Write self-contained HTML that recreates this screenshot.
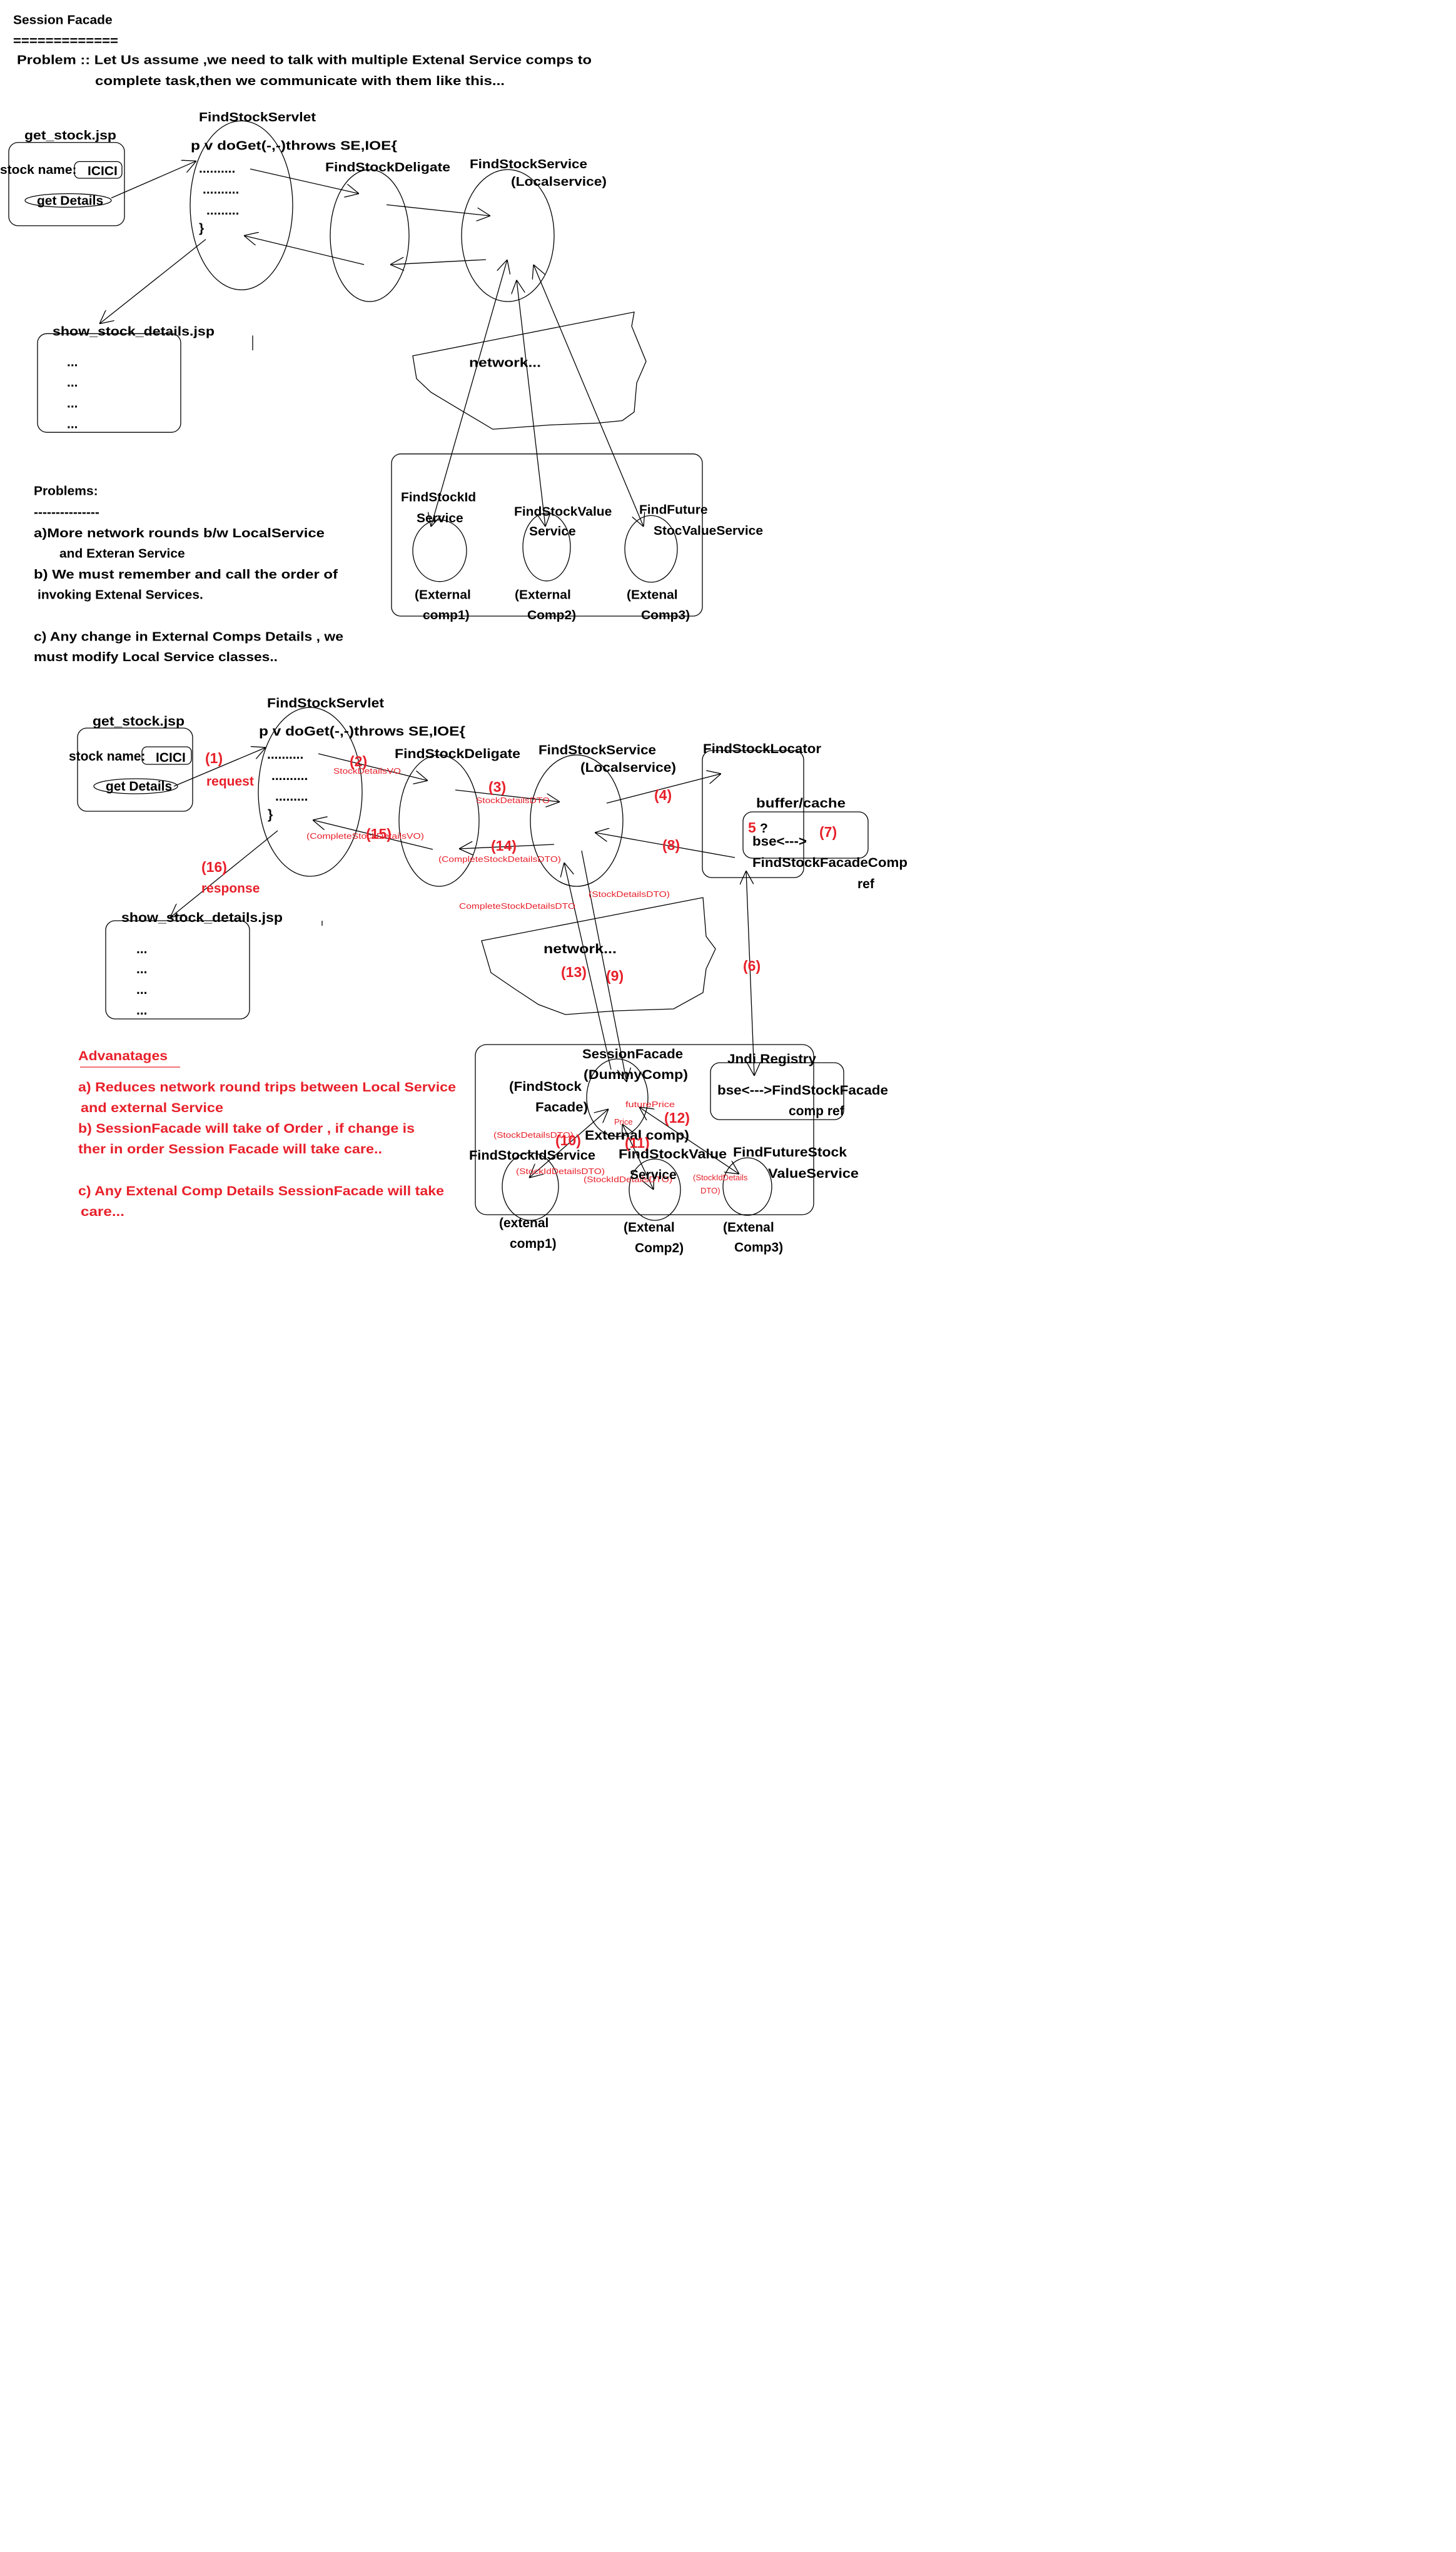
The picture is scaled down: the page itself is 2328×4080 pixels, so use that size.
<!DOCTYPE html>
<html><head><meta charset="utf-8"><style>
html,body{margin:0;padding:0;background:#fff}
svg{display:block}
text{font-family:"Liberation Sans",sans-serif;font-weight:bold;font-size:21px;fill:#000}
.r{fill:#e8202a}
.s{font-size:13px;fill:#e8202a;font-weight:normal}
.n{font-size:23px;fill:#e8202a}
</style></head><body>
<svg width="2328" height="4080" viewBox="0 0 2328 4080" xmlns="http://www.w3.org/2000/svg">
<defs>
<marker id="a" viewBox="0 0 10 10" refX="10" refY="5" markerWidth="22" markerHeight="22" markerUnits="userSpaceOnUse" orient="auto-start-reverse">
<path d="M0,0 L10,5 L0,10" fill="none" stroke="#000" stroke-width="0.6"/>
</marker>
</defs>
<g transform="matrix(1 0 0 0.986 0 0)">
<g fill="none" stroke="#000" stroke-width="1.3">
<rect x="14" y="231" width="185" height="135" rx="15"/>
<rect x="119" y="262" width="76" height="27" rx="8"/>
<ellipse cx="109" cy="325" rx="69" ry="11"/>
<ellipse cx="386" cy="333" rx="82" ry="137"/>
<ellipse cx="591" cy="382" rx="63" ry="107"/>
<ellipse cx="812" cy="382" rx="74" ry="107"/>
<rect x="60" y="541" width="229" height="160" rx="15"/>
<rect x="626" y="736" width="497" height="263" rx="15"/>
<ellipse cx="703" cy="893" rx="43" ry="50"/>
<ellipse cx="874" cy="887" rx="38" ry="55"/>
<ellipse cx="1041" cy="890" rx="42" ry="54"/>
<path d="M660,577 L1014,506 L1010,529 L1033,586 L1018,621 L1014,668 L995,682 L956,686 L880,689 L788,696 L735,664 L689,636 L666,614 Z"/>
<line x1="404" y1="544" x2="404" y2="568"/>
<g marker-end="url(#a)">
<line x1="178" y1="321" x2="314" y2="261"/>
<line x1="400" y1="274" x2="574" y2="314"/>
<line x1="618" y1="332" x2="784" y2="350"/>
<line x1="777" y1="421" x2="624" y2="429"/>
<line x1="582" y1="429" x2="390" y2="382"/>
<line x1="329" y1="388" x2="159" y2="525"/>
</g>
<g marker-end="url(#a)" marker-start="url(#a)">
<line x1="689" y1="854" x2="811" y2="421"/>
<line x1="872" y1="854" x2="826" y2="454"/>
<line x1="1029" y1="854" x2="853" y2="429"/>
</g>
</g>
<text x="21" y="39">Session Facade</text>
<text x="21" y="73" textLength="168" lengthAdjust="spacingAndGlyphs">=============</text>
<text x="27" y="104" textLength="919" lengthAdjust="spacingAndGlyphs">Problem ::  Let Us  assume ,we need to talk with multiple Extenal Service comps to</text>
<text x="152" y="138" textLength="655" lengthAdjust="spacingAndGlyphs">complete  task,then we communicate with them like this...</text>
<text x="318" y="197" textLength="187" lengthAdjust="spacingAndGlyphs">FindStockServlet</text>
<text x="39" y="226" textLength="147" lengthAdjust="spacingAndGlyphs">get_stock.jsp</text>
<text x="0" y="282">stock name:</text>
<text x="140" y="284">ICICI</text>
<text x="59" y="332">get Details</text>
<text x="305" y="243" textLength="330" lengthAdjust="spacingAndGlyphs">p  v  doGet(-,-)throws SE,IOE{</text>
<text x="318" y="280">..........</text>
<text x="324" y="314">..........</text>
<text x="330" y="348">.........</text>
<text x="318" y="377">}</text>
<text x="520" y="278" textLength="200" lengthAdjust="spacingAndGlyphs">FindStockDeligate</text>
<text x="751" y="273" textLength="188" lengthAdjust="spacingAndGlyphs">FindStockService</text>
<text x="817" y="301" textLength="153" lengthAdjust="spacingAndGlyphs">(Localservice)</text>
<text x="84" y="544" textLength="259" lengthAdjust="spacingAndGlyphs">show_stock_details.jsp</text>
<text x="107" y="594">...</text><text x="107" y="627">...</text><text x="107" y="661">...</text><text x="107" y="694">...</text>
<text x="750" y="595" textLength="115" lengthAdjust="spacingAndGlyphs">network...</text>
<text x="641" y="813">FindStockId</text>
<text x="666" y="847">Service</text>
<text x="822" y="836">FindStockValue</text>
<text x="846" y="868">Service</text>
<text x="1022" y="833">FindFuture</text>
<text x="1045" y="867">StocValueService</text>
<text x="663" y="971">(External</text>
<text x="676" y="1004">comp1)</text>
<text x="823" y="971">(External</text>
<text x="843" y="1004">Comp2)</text>
<text x="1002" y="971">(Extenal</text>
<text x="1025" y="1004">Comp3)</text>
<text x="54" y="803">Problems:</text>
<text x="54" y="837">---------------</text>
<text x="54" y="871" textLength="465" lengthAdjust="spacingAndGlyphs">a)More network rounds b/w LocalService</text>
<text x="95" y="904">and Exteran  Service</text>
<text x="54" y="938" textLength="486" lengthAdjust="spacingAndGlyphs">b) We must remember and call the order of</text>
<text x="60" y="971">invoking Extenal Services.</text>
<text x="54" y="1039" textLength="495" lengthAdjust="spacingAndGlyphs">c) Any change in External Comps Details , we</text>
<text x="54" y="1072" textLength="390" lengthAdjust="spacingAndGlyphs">must modify Local Service classes..</text>
</g>

<g fill="none" stroke="#000" stroke-width="1.3">
<rect x="124" y="1164" width="184" height="133" rx="15"/>
<rect x="227" y="1194" width="79" height="28" rx="8"/>
<ellipse cx="217" cy="1257" rx="67" ry="12"/>
<ellipse cx="496" cy="1266" rx="83" ry="135"/>
<ellipse cx="702" cy="1312" rx="64" ry="105"/>
<ellipse cx="922" cy="1312" rx="74" ry="105"/>
<rect x="1123" y="1200" width="162" height="203" rx="15"/>
<rect x="1188" y="1298" width="200" height="74" rx="15"/>
<rect x="169" y="1472" width="230" height="157" rx="15"/>
<line x1="515" y1="1472" x2="515" y2="1480"/>
<path d="M770,1504 L1124,1435 L1129,1497 L1144,1517 L1129,1549 L1124,1587 L1077,1613 L986,1616 L904,1622 L861,1606 L823,1581 L785,1555 Z"/>
<rect x="760" y="1670" width="541" height="272" rx="18"/>
<rect x="1136" y="1699" width="213" height="91" rx="15"/>
<ellipse cx="987" cy="1755" rx="49" ry="62"/>
<ellipse cx="848" cy="1897" rx="45" ry="54"/>
<ellipse cx="1047" cy="1902" rx="41" ry="49"/>
<ellipse cx="1195" cy="1897" rx="39" ry="46"/>
<line x1="128" y1="1706" x2="288" y2="1706" stroke="#e8202a"/>
<g marker-end="url(#a)">
<line x1="278" y1="1257" x2="425" y2="1195"/>
<line x1="509" y1="1205" x2="684" y2="1248"/>
<line x1="728" y1="1263" x2="895" y2="1282"/>
<line x1="970" y1="1284" x2="1153" y2="1237"/>
<line x1="1175" y1="1371" x2="951" y2="1331"/>
<line x1="886" y1="1350" x2="734" y2="1357"/>
<line x1="692" y1="1358" x2="500" y2="1311"/>
<line x1="444" y1="1328" x2="272" y2="1467"/>
<line x1="977" y1="1710" x2="902" y2="1379"/>
<line x1="930" y1="1360" x2="1002" y2="1730"/>
</g>
<g marker-end="url(#a)" marker-start="url(#a)">
<line x1="1193" y1="1392" x2="1206" y2="1720"/>
<line x1="846" y1="1883" x2="973" y2="1773"/>
<line x1="995" y1="1797" x2="1045" y2="1902"/>
<line x1="1022" y1="1770" x2="1182" y2="1877"/>
</g>
</g>

<text x="427" y="1131" textLength="187" lengthAdjust="spacingAndGlyphs">FindStockServlet</text>
<text x="148" y="1160" textLength="147" lengthAdjust="spacingAndGlyphs">get_stock.jsp</text>
<text x="110" y="1216">stock name:</text>
<text x="249" y="1218">ICICI</text>
<text x="169" y="1264">get Details</text>
<text class="n" x="328" y="1220">(1)</text>
<text class="r" x="330" y="1256">request</text>
<text x="414" y="1176" textLength="330" lengthAdjust="spacingAndGlyphs">p  v  doGet(-,-)throws SE,IOE{</text>
<text x="427" y="1213">..........</text>
<text x="434" y="1247">..........</text>
<text x="440" y="1280">.........</text>
<text x="428" y="1309">}</text>
<text class="n" x="559" y="1225">(2)</text>
<text class="s" x="533" y="1237" textLength="108" lengthAdjust="spacingAndGlyphs">StockDetailsVO</text>
<text x="631" y="1212" textLength="201" lengthAdjust="spacingAndGlyphs">FindStockDeligate</text>
<text x="861" y="1206" textLength="188" lengthAdjust="spacingAndGlyphs">FindStockService</text>
<text x="928" y="1234" textLength="153" lengthAdjust="spacingAndGlyphs">(Localservice)</text>
<text x="1124" y="1204" textLength="189" lengthAdjust="spacingAndGlyphs">FindStockLocator</text>
<text x="1209" y="1291" textLength="143" lengthAdjust="spacingAndGlyphs">buffer/cache</text>
<text class="n" x="1196" y="1331">5</text>
<text x="1215" y="1331">?</text>
<text class="n" x="1310" y="1338">(7)</text>
<text x="1203" y="1352" textLength="87" lengthAdjust="spacingAndGlyphs">bse&lt;---&gt;</text>
<text x="1203" y="1386" textLength="248" lengthAdjust="spacingAndGlyphs">FindStockFacadeComp</text>
<text x="1371" y="1420">ref</text>
<text class="n" x="781" y="1266">(3)</text>
<text class="s" x="761" y="1284" textLength="118" lengthAdjust="spacingAndGlyphs">StockDetailsDTO</text>
<text class="n" x="1046" y="1279">(4)</text>
<text class="n" x="1059" y="1359">(8)</text>
<text class="n" x="585" y="1341">(15)</text>
<text class="s" x="490" y="1341" textLength="188" lengthAdjust="spacingAndGlyphs">(CompleteStockDetailsVO)</text>
<text class="n" x="785" y="1360">(14)</text>
<text class="s" x="701" y="1378" textLength="196" lengthAdjust="spacingAndGlyphs">(CompleteStockDetailsDTO)</text>
<text class="n" x="322" y="1394">(16)</text>
<text class="r" x="322" y="1427">response</text>
<text x="194" y="1474" textLength="258" lengthAdjust="spacingAndGlyphs">show_stock_details.jsp</text>
<text x="218" y="1524">...</text><text x="218" y="1556">...</text><text x="218" y="1589">...</text><text x="218" y="1622">...</text>
<text class="s" x="734" y="1453" textLength="186" lengthAdjust="spacingAndGlyphs">CompleteStockDetailsDTO</text>
<text class="s" x="941" y="1434" textLength="130" lengthAdjust="spacingAndGlyphs">(StockDetailsDTO)</text>
<text x="869" y="1524" textLength="117" lengthAdjust="spacingAndGlyphs">network...</text>
<text class="n" x="897" y="1562">(13)</text>
<text class="n" x="969" y="1568">(9)</text>
<text class="n" x="1188" y="1552">(6)</text>
<text class="r" x="125" y="1695" textLength="143" lengthAdjust="spacingAndGlyphs">Advanatages</text>
<text class="r" x="125" y="1745" textLength="604" lengthAdjust="spacingAndGlyphs">a) Reduces network round trips between Local Service</text>
<text class="r" x="129" y="1778" textLength="228" lengthAdjust="spacingAndGlyphs">and external Service</text>
<text class="r" x="125" y="1811" textLength="538" lengthAdjust="spacingAndGlyphs">b) SessionFacade will take of Order , if change is</text>
<text class="r" x="125" y="1844" textLength="486" lengthAdjust="spacingAndGlyphs">ther in order Session Facade will take care..</text>
<text class="r" x="125" y="1911" textLength="585" lengthAdjust="spacingAndGlyphs">c) Any  Extenal Comp Details SessionFacade will take</text>
<text class="r" x="129" y="1944" textLength="70" lengthAdjust="spacingAndGlyphs">care...</text>
<text x="931" y="1692" textLength="161" lengthAdjust="spacingAndGlyphs">SessionFacade</text>
<text x="933" y="1725" textLength="167" lengthAdjust="spacingAndGlyphs">(DummyComp)</text>
<text x="814" y="1744" textLength="116" lengthAdjust="spacingAndGlyphs">(FindStock</text>
<text x="856" y="1777" textLength="84" lengthAdjust="spacingAndGlyphs">Facade)</text>
<text class="s" x="1000" y="1770" textLength="79" lengthAdjust="spacingAndGlyphs">futurePrice</text>
<text class="s" x="982" y="1798">Price</text>
<text class="n" x="1062" y="1795">(12)</text>
<text class="s" x="789" y="1819" textLength="128" lengthAdjust="spacingAndGlyphs">(StockDetailsDTO)</text>
<text class="n" x="888" y="1831">(10)</text>
<text x="935" y="1822" textLength="167" lengthAdjust="spacingAndGlyphs">External comp)</text>
<text class="n" x="999" y="1835">(11)</text>
<text x="750" y="1854" textLength="202" lengthAdjust="spacingAndGlyphs">FindStockIdService</text>
<text class="s" x="825" y="1877" textLength="142" lengthAdjust="spacingAndGlyphs">(StockIdDetailsDTO)</text>
<text class="s" x="933" y="1890" textLength="142" lengthAdjust="spacingAndGlyphs">(StockIdDetailsDTO)</text>
<text x="989" y="1852" textLength="173" lengthAdjust="spacingAndGlyphs">FindStockValue</text>
<text x="1007" y="1885">Service</text>
<text x="1163" y="1700" textLength="142" lengthAdjust="spacingAndGlyphs">Jndi Registry</text>
<text x="1147" y="1750" textLength="273" lengthAdjust="spacingAndGlyphs">bse&lt;---&gt;FindStockFacade</text>
<text x="1261" y="1783">comp ref</text>
<text x="1172" y="1849" textLength="182" lengthAdjust="spacingAndGlyphs">FindFutureStock</text>
<text x="1228" y="1883" textLength="145" lengthAdjust="spacingAndGlyphs">ValueService</text>
<text class="s" x="1108" y="1887">(StockIdDetails</text>
<text class="s" x="1120" y="1908">DTO)</text>
<text x="798" y="1962">(extenal</text>
<text x="815" y="1995">comp1)</text>
<text x="997" y="1969">(Extenal</text>
<text x="1015" y="2002">Comp2)</text>
<text x="1156" y="1969">(Extenal</text>
<text x="1174" y="2001">Comp3)</text>
</svg>
</body></html>
